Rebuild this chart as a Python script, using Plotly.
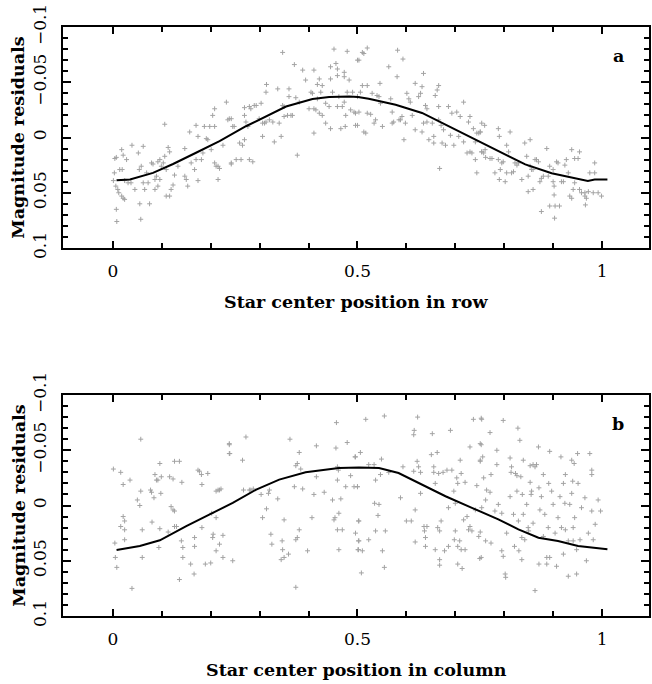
import plotly.graph_objects as go

# ---------------- Panel a : residuals vs star center position in row ----------------
a_x = [0.001,0.003,0.004,0.007,0.014,0.019,0.018,0.021,0.028,0.039,0.052,0.062,0.006,0.010,0.012,0.018,0.021,0.024,0.007,0.008,
0.024,0.031,0.037,0.045,0.055,0.057,0.054,0.058,0.062,0.065,0.072,0.075,0.069,0.079,0.082,0.086,0.086,0.089,0.092,0.092,
0.096,0.099,0.103,0.096,0.106,0.106,0.109,0.113,0.116,0.119,0.123,0.109,0.116,0.126,0.133,0.147,0.150,0.147,0.153,0.160,
0.157,0.167,0.170,0.174,0.170,0.174,0.181,0.184,0.187,0.191,0.194,0.201,0.198,0.204,0.208,0.208,0.208,0.211,0.215,0.218,
0.215,0.225,0.232,0.235,0.238,0.242,0.245,
0.242,0.248,0.242,0.252,0.262,0.259,0.265,0.269,0.269,0.269,0.272,0.276,0.279,0.282,0.279,0.286,0.289,0.293,0.299,0.303,
0.306,0.310,0.306,0.313,0.313,0.314,0.320,0.327,0.330,0.337,0.340,0.344,0.347,0.347,0.350,0.350,0.357,0.360,0.364,0.367,
0.360,0.371,0.374,0.377,0.381,0.388,0.394,0.401,0.405,0.408,0.411,0.411,0.411,0.415,0.418,0.418,0.422,0.422,0.425,0.428,
0.428,0.435,0.435,0.442,0.445,0.445,0.445,0.449,0.452,0.456,0.459,0.459,0.459,0.462,0.466,0.469,0.473,0.473,0.473,0.475,
0.476,0.479,0.483,0.479,0.486,0.490,0.493,0.496,0.500,0.500,
0.503,0.510,0.513,0.520,0.506,0.510,0.520,0.500,0.496,0.500,0.503,0.513,0.517,0.520,0.527,0.530,0.534,0.537,0.540,0.544,
0.547,0.551,0.546,0.564,0.568,0.571,0.571,0.574,0.581,0.582,0.585,0.588,0.591,0.593,0.595,0.598,0.601,0.605,0.608,0.612,
0.618,0.618,0.625,0.629,0.632,0.632,0.635,0.635,0.639,0.642,0.642,0.646,0.653,0.656,0.656,0.659,0.663,0.666,0.666,0.666,
0.668,0.671,0.673,0.676,0.680,0.686,0.690,0.693,0.697,0.703,0.707,0.710,0.717,0.717,0.724,0.727,0.730,0.730,0.734,0.737,
0.741,0.741,0.744,0.744,0.748,0.751,0.754,0.754,
0.751,0.760,0.754,0.758,0.761,0.762,0.771,0.775,0.781,0.788,0.790,0.788,0.790,0.792,0.795,0.798,0.802,0.805,0.805,0.809,
0.812,0.815,0.819,0.822,0.826,0.829,0.836,0.842,0.846,0.849,0.849,0.853,0.853,0.856,0.859,0.859,0.863,0.866,0.870,0.873,
0.876,0.876,0.880,0.887,0.890,0.893,0.893,0.900,0.900,0.902,0.902,0.903,0.904,0.907,0.910,0.913,0.917,0.921,0.924,0.927,
0.931,0.934,0.938,0.938,0.941,0.944,0.944,0.951,0.954,0.954,0.958,0.965,0.965,0.966,0.968,0.972,0.975,0.982,0.985,0.985,
0.992,0.999]
a_y = [0.039,0.032,0.019,0.018,0.029,0.029,0.011,0.016,0.020,0.007,0.014,0.008,0.044,0.047,0.050,0.053,0.055,0.056,0.065,0.076,
0.039,0.041,0.041,0.047,0.060,0.074,0.029,0.026,0.041,0.047,0.041,0.060,0.032,0.023,0.024,0.038,0.047,0.035,0.044,0.022,
0.020,0.026,0.023,0.038,-0.012,0.017,0.029,0.009,0.013,0.047,0.043,0.053,0.053,0.034,0.026,0.035,0.038,0.010,0.044,0.023,
-0.005,0.029,0.020,0.039,-0.011,-0.001,0.020,0.014,-0.010,0.001,0.002,0.011,-0.010,-0.020,-0.026,-0.010,0.023,0.026,0.026,0.028,
0.038,0.007,-0.032,-0.016,-0.017,0.023,-0.010,
-0.017,-0.010,0.024,0.020,0.020,0.005,0.007,0.002,-0.020,-0.027,-0.014,-0.010,-0.028,-0.026,0.020,0.022,-0.029,-0.029,-0.017,-0.031,
-0.013,-0.013,-0.001,-0.014,-0.041,-0.048,-0.016,-0.014,0.004,-0.044,-0.013,-0.001,-0.077,-0.029,-0.028,-0.019,-0.020,-0.044,-0.020,-0.020,
-0.037,-0.066,-0.036,0.016,-0.032,-0.061,-0.052,-0.026,-0.041,-0.040,-0.026,-0.004,-0.061,-0.025,-0.035,-0.048,-0.053,-0.022,-0.041,-0.020,
-0.047,-0.031,-0.013,-0.028,-0.008,-0.053,-0.064,-0.041,-0.080,-0.067,-0.062,-0.056,-0.028,-0.037,-0.008,-0.028,-0.032,-0.055,-0.059,-0.010,
-0.020,-0.078,-0.052,-0.041,-0.025,-0.041,-0.023,-0.011,-0.070,-0.037,
-0.070,-0.077,-0.076,-0.081,-0.041,-0.047,-0.047,-0.037,-0.022,-0.011,-0.023,-0.005,-0.004,-0.022,-0.021,-0.040,-0.013,-0.016,-0.038,-0.037,
-0.031,-0.010,-0.049,-0.064,-0.035,-0.023,-0.013,-0.014,-0.055,-0.079,-0.016,-0.016,-0.019,-0.071,0.002,-0.013,-0.040,-0.035,-0.032,-0.020,
-0.007,-0.049,-0.037,-0.040,-0.046,-0.005,-0.058,-0.013,-0.029,-0.026,-0.014,0.002,-0.013,-0.001,0.005,-0.038,-0.043,-0.047,-0.028,-0.016,
0.028,-0.011,0.005,-0.007,0.007,-0.028,-0.002,-0.022,0.007,-0.023,-0.001,-0.019,-0.032,0.004,0.014,-0.014,-0.019,0.013,0.014,-0.008,
0.020,0.004,0.032,-0.004,-0.004,-0.005,0.013,-0.013,
-0.005,-0.011,0.013,0.014,0.011,0.018,0.019,0.019,0.032,-0.008,-0.001,0.020,0.038,0.029,0.023,0.022,0.040,0.032,0.007,0.013,
-0.005,0.032,0.031,0.023,0.025,0.023,0.038,0.005,0.017,0.035,0.049,0.002,0.026,0.029,0.029,0.047,0.020,0.020,0.022,0.040,
0.067,0.037,0.035,0.010,0.035,0.062,0.026,0.040,0.029,0.044,0.052,0.073,0.062,0.022,0.023,0.062,0.040,0.040,0.025,0.020,
0.032,0.053,0.011,0.055,0.047,0.041,0.019,0.019,0.047,0.013,0.050,0.050,0.053,0.061,0.055,0.049,0.032,0.050,0.023,0.032,
0.050,0.053]

# smooth fitted curve, panel a
fit_a_x = [0.0075,0.035,0.082,0.123,0.170,0.218,0.272,0.313,0.354,0.408,0.442,0.483,0.501,0.523,0.578,0.632,
           0.680,0.734,0.788,0.843,0.897,0.938,0.971,0.985,1.011]
fit_a_y = [0.0387,0.038,0.032,0.024,0.0138,0.0033,-0.0102,-0.019,-0.028,-0.0348,-0.0366,-0.0372,-0.0366,-0.0351,-0.0297,-0.0222,
           -0.0117,0.0003,0.0123,0.0243,0.0324,0.0363,0.0393,0.038,0.038]

# ---------------- Panel b : residuals vs star center position in column ----------------
b_x = [0.001,0.016,0.021,0.035,0.057,0.057,0.050,0.055,0.021,0.024,0.016,0.024,0.024,0.004,0.005,0.008,0.039,0.060,0.060,0.077,
0.079,0.080,0.084,0.086,0.089,0.092,0.096,0.099,0.098,0.096,0.094,0.113,0.116,0.119,0.123,0.126,0.126,0.123,0.126,0.130,
0.136,0.136,0.140,0.141,0.143,0.143,0.159,0.166,0.167,0.167,0.174,0.177,0.181,0.182,0.182,0.189,0.194,0.200,0.202,0.204,
0.205,0.211,0.215,0.218,0.221,0.211,0.211,0.218,0.225,0.225,0.238,0.239,0.245,
0.238,0.238,0.265,0.272,0.267,0.279,0.282,0.287,0.303,0.306,0.314,0.320,0.318,0.337,0.323,0.325,0.346,0.347,0.350,0.344,
0.359,0.350,0.362,0.374,0.377,0.381,0.384,0.371,0.388,0.381,0.377,0.374,0.374,0.398,0.407,0.411,0.416,0.416,0.432,0.449,
0.454,0.452,0.456,0.457,0.459,0.461,0.459,0.462,0.466,0.459,0.469,0.462,0.476,0.479,0.486,0.493,0.495,0.500,0.502,0.502,
0.502,
0.496,0.506,0.500,0.496,0.503,0.503,0.501,0.510,0.508,0.517,0.523,0.523,0.534,0.537,0.535,0.544,0.542,0.537,0.549,0.547,
0.551,0.555,0.557,0.555,0.564,0.588,0.593,0.600,0.610,0.615,0.616,0.618,0.615,0.622,0.623,0.625,0.629,0.629,0.618,0.636,
0.637,0.639,0.642,0.639,0.653,0.651,0.656,0.656,0.659,0.659,0.663,0.666,0.664,0.668,0.668,0.668,0.671,0.675,0.678,0.683,
0.686,0.690,0.686,0.693,0.697,0.698,0.700,0.700,0.703,0.705,0.705,0.705,0.709,0.710,0.712,0.712,0.714,0.717,0.720,0.720,
0.724,0.727,0.730,0.730,0.734,0.737,0.741,0.744,0.748,0.751,0.751,0.754,0.750,
0.753,0.753,0.756,0.751,0.758,0.764,0.762,0.771,0.773,0.771,0.754,0.751,0.753,0.762,0.773,0.781,0.785,0.785,0.788,0.795,
0.795,0.798,0.798,0.802,0.803,0.805,0.812,0.815,0.814,0.812,0.819,0.821,0.823,0.826,0.826,0.828,0.829,0.830,0.832,0.834,
0.836,0.837,0.836,0.839,0.839,0.842,0.846,0.849,0.850,0.853,0.853,0.855,0.856,0.859,0.863,0.859,0.863,0.866,0.870,0.871,
0.871,0.873,0.876,0.880,0.880,0.883,0.887,0.887,0.890,0.891,0.893,0.893,0.897,0.900,0.904,0.907,0.910,0.914,0.916,0.917,
0.921,0.921,0.924,0.925,0.925,0.931,0.931,0.934,0.938,0.938,0.940,0.941,0.941,0.943,0.944,0.948,0.948,0.950,0.951,0.955,
0.958,0.965,0.968,0.972,0.975,0.979,0.979,0.979,0.982,0.986,0.992,0.997]
b_y = [-0.033,-0.030,-0.019,-0.023,-0.060,-0.013,-0.005,0.000,0.010,0.014,0.019,0.022,0.031,0.034,0.047,0.056,0.075,0.022,0.047,-0.014,
-0.012,0.015,-0.007,-0.028,-0.023,-0.023,-0.038,-0.026,-0.011,0.021,0.038,0.024,-0.026,0.001,0.004,0.005,-0.040,-0.024,0.019,0.019,
-0.040,0.067,0.032,-0.021,0.038,0.047,0.053,0.062,0.029,0.037,-0.032,-0.031,-0.028,-0.019,0.020,0.053,-0.029,0.052,0.007,0.029,
0.026,-0.013,-0.014,-0.014,-0.015,0.011,0.041,0.035,0.027,0.047,-0.055,-0.047,0.050,
-0.056,-0.047,-0.041,-0.062,-0.014,-0.014,-0.014,-0.015,-0.010,0.011,0.003,-0.014,-0.011,-0.006,0.026,0.035,0.032,0.040,0.047,0.049,
0.044,0.013,-0.060,-0.036,-0.038,-0.048,-0.033,-0.017,-0.015,0.022,0.029,0.031,0.074,0.041,0.011,-0.010,-0.054,-0.026,-0.012,-0.005,
0.011,0.013,-0.052,-0.075,-0.035,-0.032,-0.023,0.007,-0.006,0.022,0.022,0.040,-0.017,-0.057,-0.027,-0.017,-0.044,-0.017,0.014,0.032,
0.040,
-0.044,-0.048,-0.017,0.025,0.014,0.032,0.040,0.041,0.061,-0.078,-0.037,0.031,-0.037,-0.023,-0.002,-0.001,0.009,0.023,-0.042,-0.028,
0.041,-0.081,0.023,0.056,-0.030,-0.007,-0.035,0.014,0.014,-0.064,-0.068,0.004,-0.031,-0.040,-0.080,-0.035,-0.030,-0.011,0.033,0.019,
0.023,0.029,0.019,0.037,-0.065,-0.046,-0.035,-0.030,-0.020,0.040,-0.048,-0.029,0.020,0.023,0.049,0.054,0.014,-0.030,0.041,-0.032,
0.002,-0.068,0.037,-0.032,-0.013,0.031,-0.002,0.023,-0.025,-0.020,0.037,0.053,0.032,-0.041,-0.029,0.040,0.057,0.013,-0.021,0.040,
0.010,0.022,0.019,-0.053,0.023,-0.078,0.004,-0.018,0.028,-0.056,-0.041,-0.078,0.048,
-0.079,-0.055,-0.044,-0.040,-0.025,-0.014,-0.005,-0.066,-0.028,-0.012,0.002,0.024,0.047,0.032,0.034,0.005,-0.050,-0.037,-0.001,0.007,
0.041,-0.077,0.046,0.062,0.065,0.025,-0.043,-0.035,-0.030,-0.008,0.008,0.037,-0.029,-0.027,-0.013,-0.070,0.014,0.041,-0.059,-0.026,
0.049,-0.010,0.029,-0.041,0.008,0.031,-0.001,0.020,0.023,-0.036,-0.021,-0.010,-0.013,-0.037,-0.035,0.016,0.077,-0.037,-0.053,-0.016,
0.053,0.004,-0.008,-0.028,0.028,0.008,0.047,0.053,0.020,-0.020,-0.049,0.047,-0.013,-0.001,0.025,0.055,0.011,-0.008,-0.044,0.020,
-0.020,0.044,-0.002,0.022,-0.028,0.064,0.032,-0.001,-0.041,-0.011,-0.022,0.020,0.032,-0.038,0.011,0.040,0.062,-0.047,-0.020,0.031,
0.002,-0.007,0.050,0.025,-0.047,-0.032,-0.028,0.005,0.031,0.017,-0.005,0.005]

# smooth fitted curve, panel b
fit_b_x = [0.0075,0.055,0.096,0.150,0.198,0.245,0.293,0.340,0.394,0.442,0.462,0.503,0.544,0.584,0.625,0.680,
           0.734,0.788,0.829,0.870,0.910,0.951,1.011]
fit_b_y = [0.0402,0.0366,0.0315,0.0186,0.0081,-0.0024,-0.0144,-0.0234,-0.030,-0.033,-0.034,-0.0345,-0.034,-0.0294,-0.0204,-0.0084,
           0.0021,0.0126,0.0216,0.0291,0.0321,0.0366,0.0396]

y_ticks = [-0.1, -0.05, 0, 0.05, 0.1]
y_ticktext = ["\u22120.1", "\u22120.05", "0", "0.05", "0.1"]
x_ticks = [0, 0.5, 1]
x_ticktext = ["0", "0.5", "1"]

FONT = "DejaVu Serif"
PT_COLOR = "#a3a3a3"
TITLE_SIZE = 17.5
TICK_SIZE = 17

fig = go.Figure()
fig.add_trace(go.Scatter(x=a_x, y=a_y, mode="markers", xaxis="x", yaxis="y",
                         marker=dict(symbol="cross-thin", size=3.5, line=dict(width=1, color=PT_COLOR), color=PT_COLOR)))
fig.add_trace(go.Scatter(x=fit_a_x, y=fit_a_y, mode="lines", xaxis="x", yaxis="y",
                         line=dict(color="black", width=2)))
fig.add_trace(go.Scatter(x=b_x, y=b_y, mode="markers", xaxis="x2", yaxis="y2",
                         marker=dict(symbol="cross-thin", size=3.5, line=dict(width=1, color=PT_COLOR), color=PT_COLOR)))
fig.add_trace(go.Scatter(x=fit_b_x, y=fit_b_y, mode="lines", xaxis="x2", yaxis="y2",
                         line=dict(color="black", width=2)))

xax = dict(range=[-0.102, 1.096], tickvals=x_ticks, ticktext=x_ticktext, ticks="inside", ticklen=7,
           tickwidth=1.5, tickcolor="black", showline=True, linecolor="black", linewidth=2, mirror="allticks",
           showgrid=False, zeroline=False, ticklabelstandoff=7,
           tickfont=dict(family=FONT, size=TICK_SIZE, color="black"),
           minor=dict(dtick=0.1, tick0=0, ticks="inside", ticklen=5, tickwidth=1.5, tickcolor="black", showgrid=False))
yax = dict(range=[0.1, -0.1], tickvals=y_ticks, ticktext=y_ticktext, ticks="inside", ticklen=8,
           tickwidth=1.5, tickcolor="black", showline=True, linecolor="black", linewidth=2, mirror="allticks",
           showgrid=False, zeroline=False, tickangle=-90, ticklabelstandoff=8,
           tickfont=dict(family=FONT, size=TICK_SIZE, color="black"),
           minor=dict(dtick=0.01, tick0=0, ticks="inside", ticklen=5, tickwidth=1.5, tickcolor="black", showgrid=False))

dom_a = [368/589, 1.0]
dom_b = [0.0, 221/589]

def txt(s, x, y, angle=0):
    return dict(text="<b>%s</b>" % s, xref="paper", yref="paper", x=x, y=y, textangle=angle,
                showarrow=False, xanchor="center", yanchor="middle",
                font=dict(family=FONT, size=TITLE_SIZE, color="black"))

fig.update_layout(
    width=652, height=684,
    margin=dict(l=63, r=1, t=27, b=68),
    paper_bgcolor="white", plot_bgcolor="white",
    showlegend=False,
    xaxis=dict(xax, anchor="y"),
    yaxis=dict(yax, domain=dom_a, anchor="x"),
    xaxis2=dict(xax, anchor="y2"),
    yaxis2=dict(yax, domain=dom_b, anchor="x2"),
    annotations=[
        txt("Magnitude residuals", (18-63)/588, (dom_a[0]+dom_a[1])/2, -90),
        txt("Magnitude residuals", (18-63)/588, (dom_b[0]+dom_b[1])/2, -90),
        txt("Star center position in row", (357-63)/588, (616-302)/589),
        txt("Star center position in column", (358-63)/588, (616-670)/589),
        txt("a", (620-63)/588, (616-56)/589),
        txt("b", (620-63)/588, (616-424)/589),
    ],
)

fig.write_html("out.html")
